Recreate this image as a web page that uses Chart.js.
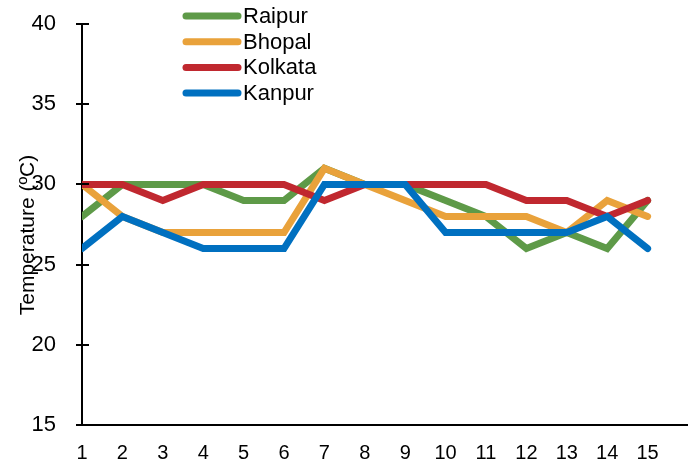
<!DOCTYPE html>
<html>
<head>
<meta charset="utf-8">
<script src="https://cdn.jsdelivr.net/npm/chart.js@4.4.0/dist/chart.umd.min.js"></script>
<style>
  html, body { margin: 0; padding: 0; background: #fff; }
  #wrap { width: 688px; height: 459px; }
</style>
</head>
<body>
<div id="wrap"><canvas id="tempChart" width="688" height="459"></canvas></div>
<script>
const days = [1, 2, 3, 4, 5, 6, 7, 8, 9, 10, 11, 12, 13, 14, 15];
const raipur = [28, 30, 30, 30, 29, 29, 31, 30, 30, 29, 28, 26, 27, 26, 29];
const bhopal = [30, 28, 27, 27, 27, 27, 31, 30, 29, 28, 28, 28, 27, 29, 28];
const kolkata = [30, 30, 29, 30, 30, 30, 29, 30, 30, 30, 30, 29, 29, 28, 29];
const kanpur = [26, 28, 27, 26, 26, 26, 30, 30, 30, 27, 27, 27, 27, 28, 26];
const yTicks = [15, 20, 25, 30, 35, 40];

const FONT = '"Liberation Sans", Arial, sans-serif';

function series(label, values, color, order) {
  return {
    label: label,
    data: values.map((v, i) => ({ x: days[i], y: v })),
    borderColor: color,
    backgroundColor: color,
    borderWidth: 7,
    borderCapStyle: 'round',
    pointRadius: 0,
    tension: 0,
    order: order
  };
}

// y tick marks cross the axis, legend sits inside the plot, axis title overlaps labels
const extras = {
  id: 'extras',
  afterDraw(chart) {
    const ctx = chart.ctx;
    const y = chart.scales.y;
    const x0 = chart.chartArea.left;
    ctx.save();
    ctx.strokeStyle = '#000';
    ctx.lineWidth = 2;
    yTicks.forEach(t => {
      const py = Math.round(y.getPixelForValue(t));
      ctx.beginPath();
      ctx.moveTo(x0 - 6, py);
      ctx.lineTo(x0 + 7, py);
      ctx.stroke();
    });

    // legend
    ctx.font = '22px ' + FONT;
    ctx.textBaseline = 'middle';
    ctx.fillStyle = '#000';
    ctx.lineCap = 'round';
    chart.data.datasets.forEach((ds, i) => {
      const ly = 16 + i * 25.7;
      ctx.strokeStyle = ds.borderColor;
      ctx.lineWidth = 7;
      ctx.beginPath();
      ctx.moveTo(186, ly);
      ctx.lineTo(238, ly);
      ctx.stroke();
      ctx.fillText(ds.label, 243, ly + 1);
    });

    // y axis title
    ctx.translate(28, 235);
    ctx.rotate(-Math.PI / 2);
    ctx.textAlign = 'center';
    ctx.font = '21px ' + FONT;
    ctx.fillText('Temperature (ºC)', 0, 0);
    ctx.restore();
  }
};

new Chart(document.getElementById('tempChart'), {
  type: 'line',
  data: {
    datasets: [
      series('Raipur', raipur, '#5e9a48', 3),
      series('Bhopal', bhopal, '#e9a23b', 2),
      series('Kolkata', kolkata, '#c0282f', 1),
      series('Kanpur', kanpur, '#0070c0', 0)
    ]
  },
  options: {
    responsive: false,
    animation: false,
    layout: { padding: { top: 24, right: 0, left: 0, bottom: 0 } },
    plugins: {
      legend: { display: false },
      tooltip: { enabled: false }
    },
    scales: {
      x: {
        type: 'linear',
        min: 1,
        max: 16,
        afterFit: s => { s.height = 34; s.paddingLeft = 0; s.paddingRight = 0; },
        afterBuildTicks: s => { s.ticks = days.map(d => ({ value: d })); },
        grid: { display: false },
        border: { display: true, color: '#000', width: 2 },
        ticks: {
          color: '#000',
          font: { family: FONT, size: 20 },
          padding: 8,
          maxRotation: 0,
          autoSkip: false
        }
      },
      y: {
        min: 15,
        max: 40,
        afterFit: s => { s.width = 82; s.paddingTop = 0; s.paddingBottom = 0; },
        afterBuildTicks: s => { s.ticks = yTicks.map(v => ({ value: v })); },
        grid: { display: false },
        border: { display: true, color: '#000', width: 2 },
        ticks: {
          color: '#000',
          font: { family: FONT, size: 22 },
          padding: 18
        }
      }
    }
  },
  plugins: [extras]
});
</script>
</body>
</html>
